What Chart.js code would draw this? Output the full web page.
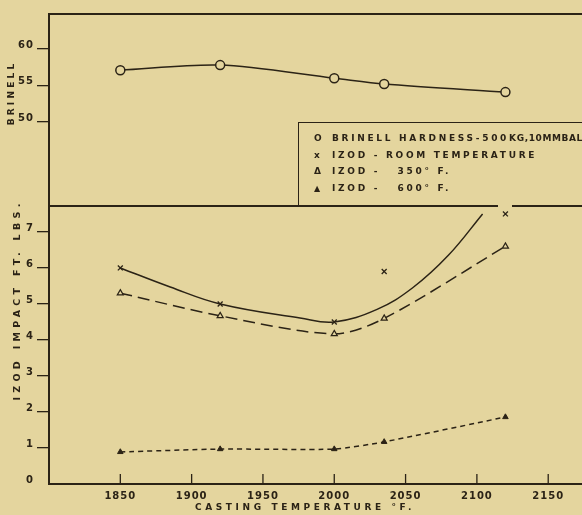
<!DOCTYPE html>
<html>
<head>
<meta charset="utf-8">
<script src="https://cdn.jsdelivr.net/npm/chart.js@4.4.1/dist/chart.umd.min.js"></script>
<style>
  html, body { margin: 0; padding: 0; background: #e4d59e; overflow: hidden; }
  #wrap { position: relative; width: 582px; height: 515px; overflow: hidden; }
  canvas { position: absolute; left: 0; top: 0; }
  #legend {
    position: absolute; left: 298px; top: 122px; width: 300px; height: 84px;
    box-sizing: border-box; border-left: 1.5px solid #2b2316; border-top: 1.5px solid #2b2316;
    padding-top: 7px; color: #2b2316;
    font: bold 9px "DejaVu Sans"; letter-spacing: 2.7px;
  }
  #legend div { height: 16.5px; line-height: 16.5px; white-space: pre; }
  #legend .m { display: inline-block; width: 18px; margin-left: 15px; letter-spacing: 0; }
  #legend .tight { letter-spacing: 0.6px; }
</style>
</head>
<body>
<div id="wrap">
  <canvas id="brinellChart" width="600" height="515"></canvas>
  <canvas id="izodChart" width="600" height="515"></canvas>
  <div id="legend">
    <div><span class="m">O</span>BRINELL HARDNESS-500<span class="tight">KG,10MMBALL</span></div>
    <div><span class="m">x</span>IZOD - ROOM TEMPERATURE</div>
    <div><span class="m">Δ</span>IZOD -   350° F.</div>
    <div><span class="m" style="font-size:8px">▲</span>IZOD -   600° F.</div>
  </div>
</div>
<script>
// values
const temps = [1850, 1920, 2000, 2035, 2120];
const brinell = [57.1, 57.8, 56.0, 55.2, 54.1];
const izodRoom = [6.0, 5.0, 4.5, 5.9, 7.5];
const izod350 = [5.3, 4.67, 4.17, 4.6, 6.6];
const izod600 = [0.89, 0.97, 0.97, 1.17, 1.86];
// the solid room-temp curve is a hand fit, it doesn't go through every x
const roomFitTemps = [1850, 1885, 1920, 1976, 2000, 2030, 2055, 2080, 2104];
const roomFitVals = [6.0, 5.47, 5.0, 4.61, 4.5, 4.85, 5.45, 6.35, 7.5];

const tempTicks = [1850, 1900, 1950, 2000, 2050, 2100, 2150];
const brinellTicks = [50, 55, 60];
const izodTicks = [0, 1, 2, 3, 4, 5, 6, 7];

const INK = '#2b2316';
const PAPER = '#e4d59e';

Chart.defaults.font.family = '"DejaVu Sans"';
Chart.defaults.color = INK;

const pts = (xs, ys) => xs.map((x, i) => ({ x: x, y: ys[i] }));

function xScale(show) {
  const s = {
    type: 'linear', min: 1800, max: 2180, display: show,
    afterBuildTicks: sc => { sc.ticks = tempTicks.map(v => ({ value: v })); },
    grid: { display: false, drawTicks: false },
    border: { display: true, color: INK, width: 2 },
    ticks: {
      color: INK, font: { size: 10, weight: 'bold' }, padding: 6, maxRotation: 0, autoSkip: false,
      callback: v => String(v)
    }
  };
  if (show) s.afterFit = sc => { sc.height = 31; };
  return s;
}

function yScale(min, max, list) {
  return {
    min: min, max: max,
    afterBuildTicks: s => { s.ticks = list.map(v => ({ value: v })); },
    afterFit: s => { s.width = 49; },
    grid: {
      drawOnChartArea: false, tickLength: 12, lineWidth: 1.3,
      color: c => (c.tick && c.tick.value === 0) ? 'rgba(0,0,0,0)' : INK
    },
    border: { display: true, color: INK, width: 2 },
    ticks: { color: INK, font: { size: 10, weight: 'bold' }, padding: 3, labelOffset: -4 }
  };
}

function drawText(ctx, text, x, y, rot, size, gap) {
  ctx.save();
  ctx.translate(x, y);
  if (rot) ctx.rotate(-Math.PI / 2);
  ctx.font = 'bold ' + size + 'px "DejaVu Sans"';
  ctx.letterSpacing = gap + 'px';
  ctx.fillStyle = INK;
  ctx.textAlign = 'center';
  ctx.textBaseline = 'middle';
  ctx.fillText(text, 0, 0);
  ctx.restore();
}

// letter spacing for tick labels, like the stencil lettering on the scan
const spacing = {
  id: 'spacing',
  beforeUpdate(chart) { chart.ctx.letterSpacing = '1px'; },
  beforeDraw(chart) { chart.ctx.letterSpacing = '1px'; }
};

const topFrame = {
  id: 'topFrame',
  afterDraw(chart) {
    const ctx = chart.ctx, a = chart.chartArea;
    ctx.save();
    ctx.strokeStyle = INK;
    ctx.lineWidth = 2;
    ctx.beginPath();
    ctx.moveTo(a.left - 1, a.top);
    ctx.lineTo(chart.width, a.top);
    ctx.stroke();
    ctx.restore();
    drawText(ctx, 'BRINELL', 12, 93, true, 9, 3.2);
  }
};

const bottomFrame = {
  id: 'bottomFrame',
  afterDraw(chart) {
    const ctx = chart.ctx, a = chart.chartArea, x = chart.scales.x;
    ctx.save();
    ctx.strokeStyle = INK;
    ctx.lineWidth = 2;
    ctx.beginPath();
    ctx.moveTo(a.left - 1, a.top);
    ctx.lineTo(498, a.top);
    ctx.moveTo(512, a.top);
    ctx.lineTo(chart.width, a.top);
    ctx.stroke();
    // ticks on the temperature axis point up into the plot
    ctx.lineWidth = 1.3;
    ctx.beginPath();
    x.ticks.forEach(t => {
      const px = x.getPixelForValue(t.value);
      ctx.moveTo(px, a.bottom);
      ctx.lineTo(px, a.bottom - 10);
    });
    ctx.stroke();
    ctx.restore();
    drawText(ctx, 'IZOD IMPACT FT. LBS.', 18, 300, true, 9.5, 4.3);
    drawText(ctx, 'CASTING TEMPERATURE °F.', 305, 508, false, 9, 3.6);
  }
};

const common = {
  responsive: false,
  animation: false,
  plugins: { legend: { display: false }, tooltip: { enabled: false } }
};

new Chart(document.getElementById('brinellChart'), {
  type: 'line',
  data: {
    datasets: [{
      label: 'Brinell hardness - 500kg, 10mm ball',
      data: pts(temps, brinell),
      borderColor: INK, borderWidth: 1.5, tension: 0.3,
      pointStyle: 'circle', pointRadius: 4.5,
      pointBackgroundColor: PAPER, pointBorderColor: INK, pointBorderWidth: 1.5
    }]
  },
  options: Object.assign({}, common, {
    layout: { padding: { top: 14, bottom: 309, right: 9, left: 0 } },
    scales: { x: xScale(false), y: yScale(38.5, 64.8, brinellTicks) }
  }),
  plugins: [spacing, topFrame]
});

new Chart(document.getElementById('izodChart'), {
  type: 'line',
  data: {
    datasets: [
      {
        label: 'Izod - room temperature (curve)',
        data: pts(roomFitTemps, roomFitVals),
        borderColor: INK, borderWidth: 1.5, tension: 0.4,
        pointRadius: 0
      },
      {
        label: 'Izod - room temperature',
        data: pts(temps, izodRoom),
        showLine: false,
        pointStyle: 'crossRot', pointRadius: 3.5,
        pointBorderColor: INK, pointBorderWidth: 1.3
      },
      {
        label: 'Izod - 350° F.',
        data: pts(temps, izod350),
        borderColor: INK, borderWidth: 1.5, borderDash: [12, 6], tension: 0.3,
        pointStyle: 'triangle', pointRadius: 3.5,
        pointBackgroundColor: PAPER, pointBorderColor: INK, pointBorderWidth: 1.2
      },
      {
        label: 'Izod - 600° F.',
        data: pts(temps, izod600),
        borderColor: INK, borderWidth: 1.5, borderDash: [5, 4], tension: 0.2,
        pointStyle: 'triangle', pointRadius: 3.2,
        pointBackgroundColor: INK, pointBorderColor: INK, pointBorderWidth: 1
      }
    ]
  },
  options: Object.assign({}, common, {
    layout: { padding: { top: 206, right: 9, left: 0, bottom: 0 } },
    scales: { x: xScale(true), y: yScale(0, 7.72, izodTicks) }
  }),
  plugins: [spacing, bottomFrame]
});
</script>
</body>
</html>
